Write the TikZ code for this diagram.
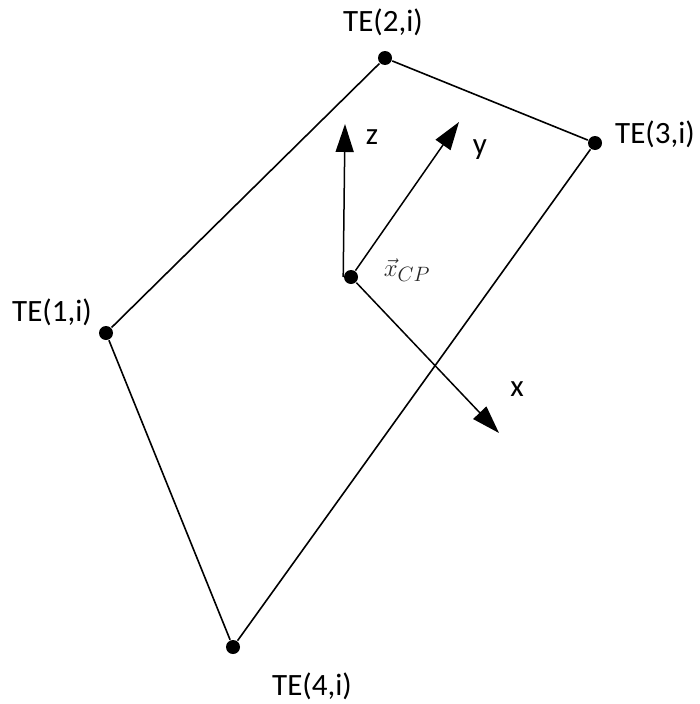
\documentclass[tikz,border=0pt]{standalone}
\usepackage{fontspec}
\setmainfont{Carlito}
\usetikzlibrary{arrows.meta}
\tikzset{
  vtx/.style={circle,fill,inner sep=0pt,minimum size=14pt},
  lab/.style={font=\fontsize{31}{36}\selectfont,inner sep=0pt},
  axis/.style={line width=1.5pt,-{Triangle[length=28pt,width=18pt]}},
}
\begin{document}
\begin{tikzpicture}[x=1pt,y=-1pt,line width=1.6pt]
\useasboundingbox (0,0) rectangle (699,704);
\foreach \k/\x/\y in {1/106/333,2/385/58,3/595/143,4/233/647}{
  \node[vtx] (te\k) at (\x,\y) {};
}
\foreach \k/\x/\y in {1/52/312,2/383/22,3/655/134,4/312/686}{
  \node[lab] (lab\k) at (\x,\y) {TE(\k,i)};
}
\draw (te1) -- (te2) -- (te3) -- (te4) -- (te1);
\node[vtx] (cp) at (351,277) {};
\node[font=\fontsize{29}{34}\selectfont,text=black!85,inner sep=0pt] (xcp) at (407,270) {$\vec{x}_{CP}$};
\coordinate (ztip) at (345,124);
\coordinate (ytip) at (459,122);
\coordinate (xtip) at (499,433);
\draw[axis] (cp.west) -- (ztip);
\draw[axis] (cp) -- (ytip);
\draw[axis] (cp) -- (xtip);
\node[lab] (zlab) at (372,137) {z};
\node[lab] (ylab) at (480,150) {y};
\node[lab] (xlab) at (517,389) {x};
\end{tikzpicture}
\end{document}
